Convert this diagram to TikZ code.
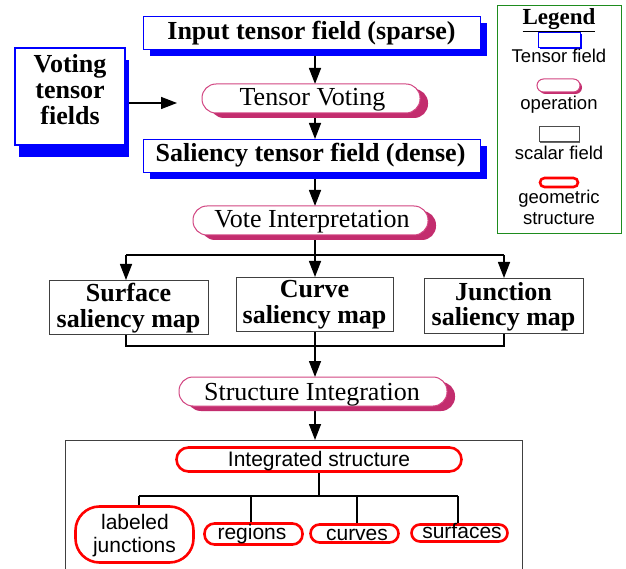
\documentclass[tikz,border=0pt]{standalone}
\usepackage{fontspec}
\setmainfont{Liberation Serif}
\setsansfont{Liberation Sans}
\usetikzlibrary{arrows.meta,shadows,backgrounds}
\definecolor{tblue}{RGB}{0,0,255}
\definecolor{opc}{RGB}{195,45,110}
\definecolor{opline}{RGB}{210,70,130}
\definecolor{lgreen}{RGB}{30,140,30}
\begin{document}
\begin{tikzpicture}[x=1pt,y=-1pt,
  every node/.style={inner sep=0pt, outer sep=0pt},
  tf/.style={draw=tblue, line width=0.9pt, fill=white, drop shadow={shadow xshift=7pt, shadow yshift=-7pt, fill=tblue, opacity=1}},
  tfv/.style={draw=tblue, line width=2.2pt, fill=white, drop shadow={shadow xshift=4pt, shadow yshift=-12pt, fill=tblue, opacity=1}},
  op/.style={draw=opline, line width=1pt, fill=white, drop shadow={shadow xshift=8pt, shadow yshift=-5pt, fill=opc, opacity=1}},
  sc/.style={draw=black!75, line width=0.9pt, fill=white},
  geo/.style={draw=red, line width=2.6pt, fill=white},
  big/.style={font=\fontsize{26}{26}\selectfont, anchor=base},
  bigb/.style={font=\bfseries\fontsize{26}{26}\selectfont, anchor=base},
  sans/.style={font=\sffamily\fontsize{21}{21}\selectfont, anchor=base},
  lsans/.style={font=\sffamily\fontsize{18.5}{18.5}\selectfont, anchor=base},
  arr/.style={line width=1.4pt, -{Triangle[length=16pt,width=12pt]}},
  tree/.style={line width=2pt}
]
\useasboundingbox (0,0) rectangle (626,569);
\clip (0,0) rectangle (626,569);

% column coordinate
\coordinate (colx) at (315,0);

% --- tensor fields ---
\node[tf, minimum width=337pt, minimum height=33pt] (input) at (311.5,32.5) {};
\node[bigb] (inputt) at (311.5,39.5) {Input tensor field (sparse)};

\node[tfv, minimum width=110pt, minimum height=97pt] (voting) at (70,96.5) {};
\node[bigb] (vot1) at (70,72.5) {Voting};
\node[bigb] (vot2) at (70,98.5) {tensor};
\node[bigb] (vot3) at (70,124.5) {fields};

\node[op, rounded corners=14pt, minimum width=218pt, minimum height=29pt] (tv) at (311,98.5) {};
\node[big] (tvt) at (312.5,106) {Tensor Voting};

\node[tf, minimum width=337pt, minimum height=33pt] (sal) at (311.5,155.5) {};
\node[bigb] (salt) at (310.5,161.5) {Saliency tensor field (dense)};

\node[op, rounded corners=14pt, minimum width=235pt, minimum height=29pt] (vi) at (310.5,220.5) {};
\node[big] (vit) at (312,228) {Vote Interpretation};

% --- scalar maps ---
\node[sc, minimum width=159pt, minimum height=54pt] (surf) at (128.5,307) {};
\node[bigb] (surft1) at (128.5,301) {Surface};
\node[bigb] (surft2) at (128.5,327) {saliency map};

\node[sc, minimum width=157pt, minimum height=54pt] (curve) at (314.5,304) {};
\node[bigb] (curvet1) at (314.5,298) {Curve};
\node[bigb] (curvet2) at (314.5,323.5) {saliency map};

\node[sc, minimum width=159pt, minimum height=55pt] (junc) at (503.5,305.5) {};
\node[bigb] (junct1) at (503.5,300) {Junction};
\node[bigb] (junct2) at (503.5,325.5) {saliency map};

\node[op, rounded corners=14pt, minimum width=268pt, minimum height=29pt] (si) at (313,391.5) {};
\node[big] (sit) at (312,400) {Structure Integration};

% --- integrated structure container ---
\node[draw=black!75, line width=0.9pt, minimum width=457pt, minimum height=140pt] (cont) at (293.5,510) {};
\node[geo, rounded corners=12pt, minimum width=285pt, minimum height=24pt] (is) at (319,459.5) {};
\node[sans] (ist) at (319,466) {Integrated structure};

\node[geo, rounded corners=24pt, minimum width=118pt, minimum height=56pt] (lj) at (134.5,534.5) {};
\node[sans] (ljt1) at (135,529) {labeled};
\node[sans] (ljt2) at (134.5,552.5) {junctions};

\node[geo, rounded corners=10pt, minimum width=98pt, minimum height=21pt] (reg) at (253.5,534) {};
\node[sans] (regt) at (252,539) {regions};
\node[geo, rounded corners=9pt, minimum width=88pt, minimum height=18pt] (cur) at (354.5,533.5) {};
\node[sans] (curt) at (357,540) {curves};
\node[geo, rounded corners=8.5pt, minimum width=96pt, minimum height=17pt] (sur) at (459.5,533) {};
\node[sans] (surt) at (462,538) {surfaces};

% --- legend ---
\node[draw=lgreen, line width=1.6pt, minimum width=124pt, minimum height=228pt] (legend) at (559.5,119.5) {};
\node[font=\bfseries\fontsize{23}{23}\selectfont, anchor=base] (legt) at (559,25) {\underline{Legend}};
\node[draw=tblue, line width=1pt, fill=white, minimum width=42pt, minimum height=15pt,
      drop shadow={shadow xshift=1.5pt, shadow yshift=-1.5pt, fill=tblue, opacity=1}] (lg1) at (559,40.5) {};
\node[lsans] (lg1t) at (559,63) {Tensor field};
\node[draw=opline, line width=1pt, fill=white, rounded corners=6.5pt, minimum width=43pt, minimum height=13pt,
      drop shadow={shadow xshift=2pt, shadow yshift=-2pt, fill=opc, opacity=1}] (lg2) at (558.5,85.5) {};
\node[lsans] (lg2t) at (559,110) {operation};
\node[draw=black!70, line width=1pt, fill=white, minimum width=40pt, minimum height=15pt,
      drop shadow={shadow xshift=1.2pt, shadow yshift=-1.2pt, fill=black!60, opacity=1}] (lg3) at (559,134.5) {};
\node[lsans] (lg3t) at (559,160) {scalar field};
\node[draw=red, line width=2.6pt, fill=white, rounded corners=4.5pt, minimum width=38pt, minimum height=9pt] (lg4) at (559,182.5) {};
\node[lsans] (lg4t1) at (559,204) {geometric};
\node[lsans] (lg4t2) at (559,225) {structure};

% --- connectors ---
\coordinate (vtip) at (177,103);
\coordinate (bL) at (126,255);
\coordinate (bR) at (504,255);
\coordinate (mL) at (126,346);
\coordinate (mR) at (504,346);
\coordinate (t0) at (319,496);
\coordinate (tL) at (139,496);
\coordinate (t2) at (251,496);
\coordinate (t3) at (357,496);
\coordinate (tR) at (458,496);

\begin{scope}[on background layer]
\fill[white] (0,0) rectangle (626,569);
\draw[arr] (input.south -| colx) -- (tv.north -| colx);
\draw[arr] (tv.south -| colx) -- (sal.north -| colx);
\draw[arr] (sal.south -| colx) -- (vi.north -| colx);
\draw[arr] (voting.east |- vtip) -- (vtip);
\draw[arr] (vi.south -| colx) -- (curve.north -| colx);
\draw[line width=1.4pt] (bL) -- (bR);
\draw[arr] (bL) -- (bL |- surf.north);
\draw[arr] (bR) -- (bR |- junc.north);
\draw[line width=1.4pt] (surf.south -| mL) -- (mL) -- (mR) -- (junc.south -| mR);
\draw[arr] (curve.south -| colx) -- (si.north -| colx);
\draw[arr] (si.south -| colx) -- (cont.north -| colx);
\draw[tree] (is.south -| t0) -- (t0);
\draw[tree] (tL) -- (tR);
\draw[tree] (tL) -- (tL |- lj.north);
\draw[tree] (t2) -- (t2 |- reg.north);
\draw[tree] (t3) -- (t3 |- cur.north);
\draw[tree] (tR) -- (tR |- sur.north);
\end{scope}
\end{tikzpicture}
\end{document}
